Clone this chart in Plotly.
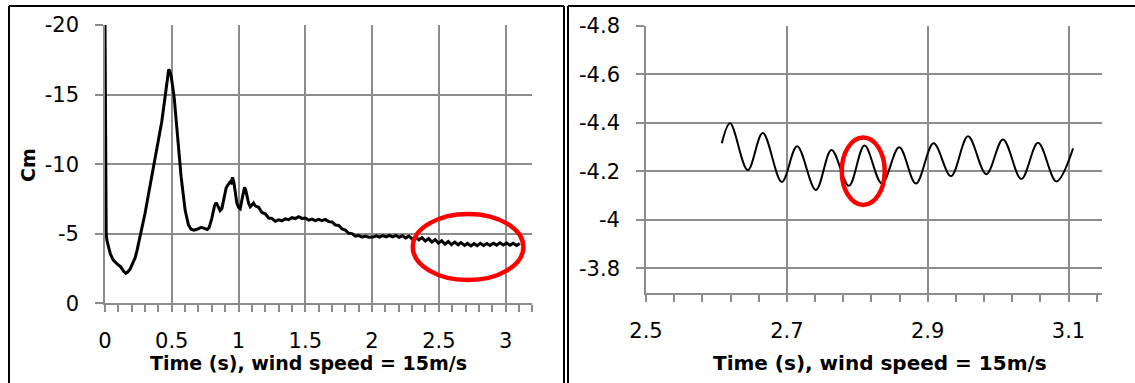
import plotly.graph_objects as go

# ---- Pitching-moment coefficient Cm, wind speed 15 m/s ----
# Start-up transient (0 - 2.6 s)
time_head = [
    0.0, 0.002, 0.004, 0.006, 0.009, 0.015, 0.025, 0.04, 0.062, 0.08,
    0.1, 0.115, 0.125, 0.14, 0.155, 0.17, 0.1875, 0.205, 0.225, 0.24,
    0.2575, 0.28, 0.3, 0.325, 0.35, 0.3875, 0.425, 0.455, 0.47, 0.477,
    0.485, 0.495, 0.5175, 0.5425, 0.57, 0.6, 0.625, 0.645, 0.665, 0.69,
    0.72, 0.745, 0.765, 0.78, 0.8, 0.82, 0.8325, 0.845, 0.862, 0.875,
    0.89, 0.9075, 0.92, 0.935, 0.945, 0.955, 0.965, 0.975, 0.9875, 1.0,
    1.0125, 1.03, 1.045, 1.055, 1.0625, 1.075, 1.0875, 1.1, 1.1125, 1.125,
    1.15, 1.175, 1.2, 1.225, 1.25, 1.275, 1.3, 1.325, 1.35, 1.375,
    1.4, 1.425, 1.45, 1.475, 1.5, 1.525, 1.55, 1.575, 1.6, 1.625,
    1.65, 1.675, 1.7, 1.725, 1.75, 1.775, 1.8, 1.825, 1.85, 1.875,
    1.9, 1.925, 1.95, 1.975,
    2.007, 2.0315, 2.056, 2.0805, 2.105, 2.1295, 2.154, 2.1785, 2.203, 2.2275,
    2.252, 2.2765, 2.301, 2.3255, 2.35, 2.3745, 2.399, 2.4235, 2.448, 2.4725,
    2.497, 2.5215, 2.546, 2.5705, 2.595,
]
cm_head = [
    -20.0, -13.0, -8.5, -6.2, -5.0, -4.5, -4.05, -3.55, -3.1, -2.9,
    -2.75, -2.65, -2.5, -2.3, -2.16, -2.25, -2.45, -2.8, -3.25, -3.8,
    -4.55, -5.6, -6.47, -7.8, -9.1, -10.9, -13.05, -15.2, -16.5, -16.8,
    -16.7, -16.35, -14.85, -11.97, -9.1, -6.7, -5.63, -5.32, -5.25, -5.32,
    -5.46, -5.38, -5.3, -5.45, -6.1, -7.0, -7.23, -7.0, -6.66, -6.8,
    -7.6, -8.3, -8.5, -8.7, -8.65, -9.05, -8.7, -8.0, -7.2, -6.9,
    -6.8, -7.66, -8.34, -8.1, -7.7, -7.2, -6.94, -7.1, -7.2, -7.0,
    -6.9, -6.53, -6.43, -6.13, -6.1, -5.89, -6.0, -5.93, -6.07, -6.01,
    -6.15, -6.09, -6.23, -6.1, -6.13, -5.98, -6.05, -5.94, -6.04, -5.94,
    -6.03, -5.87, -5.85, -5.63, -5.6, -5.35, -5.27, -5.03, -5.01, -4.83,
    -4.87, -4.75, -4.83, -4.75,
    -4.76, -4.85, -4.76, -4.86, -4.77, -4.88, -4.77, -4.88, -4.75, -4.86,
    -4.7, -4.83, -4.62, -4.78, -4.56, -4.72, -4.48, -4.65, -4.4, -4.58,
    -4.32, -4.5, -4.25, -4.44, -4.21,
]

# Late-time oscillation (2.6 - 3.11 s), enlarged in the right panel
time_tail = [
    2.6076, 2.6194, 2.6445, 2.6658, 2.6929, 2.7146, 2.7412, 2.7634, 2.7881, 2.8103,
    2.8350, 2.8596, 2.8833, 2.9084, 2.9331, 2.9573, 2.9833, 3.0070, 3.0330, 3.0568,
    3.0828, 3.1065,
]
cm_tail = [
    -4.316, -4.399, -4.206, -4.359, -4.157, -4.304, -4.124, -4.289, -4.141, -4.307,
    -4.150, -4.300, -4.150, -4.316, -4.181, -4.345, -4.189, -4.332, -4.169, -4.318,
    -4.159, -4.295,
]

# Axis ticks
left_x_ticks = [0, 0.5, 1, 1.5, 2, 2.5, 3]
left_x_labels = ["0", "0.5", "1", "1.5", "2", "2.5", "3"]
left_y_ticks = [0, -5, -10, -15, -20]
left_y_labels = ["0", "-5", "-10", "-15", "-20"]
right_x_ticks = [2.5, 2.7, 2.9, 3.1]
right_x_labels = ["2.5", "2.7", "2.9", "3.1"]
right_y_ticks = [-4.8, -4.6, -4.4, -4.2, -4.0, -3.8]
right_y_labels = ["-4.8", "-4.6", "-4.4", "-4.2", "-4", "-3.8"]

x_title = "Time (s), wind speed = 15m/s"
y_title = "Cm"

W, H = 1135, 383
GRID = "#8c8c8c"
FONT = "DejaVu Sans"


def fx(p):
    return p / W


def fy(p):
    return 1 - p / H


fig = go.Figure()

fig.add_trace(go.Scatter(
    x=time_head + time_tail, y=cm_head + cm_tail,
    mode="lines", line=dict(color="black", width=3),
    xaxis="x", yaxis="y", showlegend=False, hoverinfo="skip",
))
fig.add_trace(go.Scatter(
    x=time_tail, y=cm_tail,
    mode="lines", line=dict(color="black", width=2, shape="spline"),
    xaxis="x2", yaxis="y2", showlegend=False, hoverinfo="skip",
))

common_axis = dict(
    showgrid=True, gridcolor=GRID, gridwidth=1.6,
    showline=True, linecolor=GRID, linewidth=1.6,
    ticks="outside", tickcolor=GRID, tickwidth=1.6,
    zeroline=False, automargin=False, fixedrange=True,
    tickfont=dict(family=FONT, size=21, color="black"),
    tickmode="array",
)

fig.update_layout(
    width=W, height=H, autosize=False,
    margin=dict(l=0, r=0, t=0, b=0),
    paper_bgcolor="white", plot_bgcolor="white",
    xaxis=dict(common_axis, domain=[fx(105), fx(532.3)], range=[0, 3.2],
               tickvals=left_x_ticks, ticktext=left_x_labels, ticklen=7,
               anchor="y", ticklabelstandoff=11,
               minor=dict(tick0=0, dtick=0.1, ticks="outside", ticklen=7,
                          tickcolor=GRID, tickwidth=1.6, showgrid=False)),
    yaxis=dict(common_axis, domain=[fy(303.3), fy(25)], range=[0, -20],
               tickvals=left_y_ticks, ticktext=left_y_labels, ticklen=8,
               anchor="x", ticklabelstandoff=12),
    xaxis2=dict(common_axis, domain=[fx(646), fx(1102.3)], range=[2.5, 3.148],
                tickvals=right_x_ticks, ticktext=right_x_labels, ticklen=7,
                anchor="y2", ticklabelstandoff=11,
                minor=dict(tick0=2.5, dtick=0.04, ticks="outside", ticklen=7,
                           tickcolor=GRID, tickwidth=1.6, showgrid=False)),
    yaxis2=dict(common_axis, domain=[fy(292.7), fy(26)], range=[-3.7, -4.8],
                tickvals=right_y_ticks, ticktext=right_y_labels, ticklen=8,
                anchor="x2", ticklabelstandoff=12),
)

# Axis titles
title_font = dict(family=FONT, color="black")
fig.add_annotation(text=x_title, x=fx(308.5), y=fy(363), xref="paper", yref="paper",
                   showarrow=False, xanchor="center", yanchor="middle",
                   font=dict(title_font, size=19, weight="bold"))
fig.add_annotation(text=x_title, x=fx(879.5), y=fy(363), xref="paper", yref="paper",
                   showarrow=False, xanchor="center", yanchor="middle",
                   font=dict(title_font, size=20, weight="bold"))
fig.add_annotation(text=y_title, x=fx(28), y=fy(165), xref="paper", yref="paper",
                   showarrow=False, xanchor="center", yanchor="middle", textangle=-90,
                   font=dict(title_font, size=19, weight="bold"))

# Red highlight ellipses around the oscillating tail
fig.add_shape(type="circle", xref="x", yref="y", x0=2.305, x1=3.133, y0=-6.42, y1=-1.67,
              line=dict(color="#ff0000", width=4.5), layer="above")
fig.add_shape(type="circle", xref="x2", yref="y2", x0=2.778, x1=2.839, y0=-4.34, y1=-4.062,
              line=dict(color="#ff0000", width=4.5), layer="above")

# Panel frames
frame = dict(color="black", width=2)
for (x0, y0, x1, y1) in [
    (9, 6, 9, 400), (9, 6, 564, 6), (564, 6, 564, 400),
    (568, 6, 568, 400), (568, 6, 1140, 6),
]:
    fig.add_shape(type="line", xref="paper", yref="paper",
                  x0=fx(x0), y0=fy(y0), x1=fx(x1), y1=fy(y1), line=frame, layer="above")

fig.write_html("out.html")
